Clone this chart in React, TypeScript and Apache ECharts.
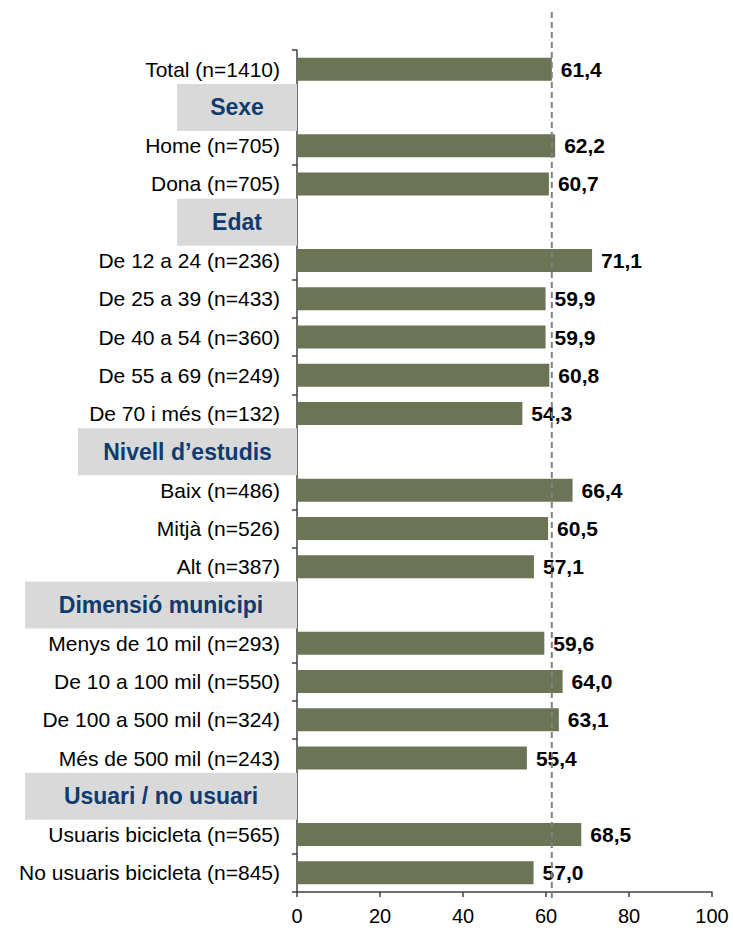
import React, { useEffect, useRef } from "react";
import * as echarts from "echarts";

// ---- Data ----
const categories: string[] = [
  "Total (n=1410)",
  "Sexe",
  "Home (n=705)",
  "Dona (n=705)",
  "Edat",
  "De 12 a 24 (n=236)",
  "De 25 a 39 (n=433)",
  "De 40 a 54 (n=360)",
  "De 55 a 69 (n=249)",
  "De 70 i més (n=132)",
  "Nivell d’estudis",
  "Baix (n=486)",
  "Mitjà (n=526)",
  "Alt (n=387)",
  "Dimensió municipi",
  "Menys de 10 mil (n=293)",
  "De 10 a 100 mil (n=550)",
  "De 100 a 500 mil (n=324)",
  "Més de 500 mil (n=243)",
  "Usuari / no usuari",
  "Usuaris bicicleta (n=565)",
  "No usuaris bicicleta (n=845)",
];

const values: (number | null)[] = [
  61.4, null, 62.2, 60.7, null, 71.1, 59.9, 59.9, 60.8, 54.3, null, 66.4, 60.5,
  57.1, null, 59.6, 64.0, 63.1, 55.4, null, 68.5, 57.0,
];

const headers: string[] = [
  "Sexe",
  "Edat",
  "Nivell d’estudis",
  "Dimensió municipi",
  "Usuari / no usuari",
];

const referenceValue = values[0] as number; // Total
const xTicks = { min: 0, max: 100, interval: 20 };

// ---- Styles ----
const FONT = "'Liberation Sans', Arial, sans-serif";
const headerBoxWidths = [120, 120, 219, 272, 272];
const BAR_COLOR = "#6b7556";
const AXIS_COLOR = "#404040";
const HEADER_COLOR = "#0f3b6f";
const HEADER_BG = "#d9d9d9";

export default function App() {
  const ref = useRef<HTMLDivElement>(null);

  useEffect(() => {
    if (!ref.current) return;
    const chart = echarts.init(ref.current, undefined, { renderer: "svg" });

    const rich: Record<string, any> = {
      n: {
        fontFamily: FONT,
        fontSize: 21,
        color: "#000",
        padding: [0, 17, 0, 0],
      },
    };
    headers.forEach((h, i) => {
      rich["h" + i] = {
        fontFamily: FONT,
        fontSize: 23,
        fontWeight: "bold",
        color: HEADER_COLOR,
        backgroundColor: HEADER_BG,
        width: headerBoxWidths[i],
        height: 47,
        lineHeight: 47,
        align: "center",
      };
    });

    chart.setOption({
      animation: false,
      grid: { left: 297, top: 50, width: 415, height: 842 },
      xAxis: {
        type: "value",
        min: xTicks.min,
        max: xTicks.max,
        interval: xTicks.interval,
        splitLine: { show: false },
        axisLine: { show: true, lineStyle: { color: AXIS_COLOR, width: 1.5 } },
        axisTick: { show: true, length: 5, lineStyle: { color: AXIS_COLOR, width: 1.5 } },
        axisLabel: { fontFamily: FONT, fontSize: 20, color: "#000", margin: 14 },
      },
      yAxis: {
        type: "category",
        data: categories,
        inverse: true,
        axisLine: { show: true, lineStyle: { color: AXIS_COLOR, width: 1.5 } },
        axisTick: { show: true, length: 5, lineStyle: { color: AXIS_COLOR, width: 1.5 } },
        axisLabel: {
          margin: 0,
          interval: 0,
          formatter: (v: string) => {
            const hi = headers.indexOf(v);
            return hi >= 0 ? `{h${hi}|${v}}` : `{n|${v}}`;
          },
          rich,
        },
      },
      series: [
        {
          type: "bar",
          data: values,
          barWidth: 23,
          itemStyle: { color: BAR_COLOR },
          label: {
            show: true,
            position: "right",
            distance: 9,
            fontFamily: FONT,
            fontSize: 21,
            fontWeight: "bold",
            color: "#000",
            formatter: (p: any) =>
              p.value == null ? "" : Number(p.value).toFixed(1).replace(".", ","),
          },
        },
      ],
    });

    const x = chart.convertToPixel({ xAxisIndex: 0 }, referenceValue) as number;
    chart.setOption({
      graphic: [
        {
          type: "line",
          z: 100,
          shape: { x1: x, y1: 12, x2: x, y2: 900 },
          style: { stroke: "#808080", lineWidth: 2, lineDash: [6, 4] },
        },
      ],
    });

    return () => chart.dispose();
  }, []);

  return (
    <div
      ref={ref}
      style={{ position: "fixed", left: 0, top: 0, width: 733, height: 931, background: "#fff" }}
    />
  );
}
